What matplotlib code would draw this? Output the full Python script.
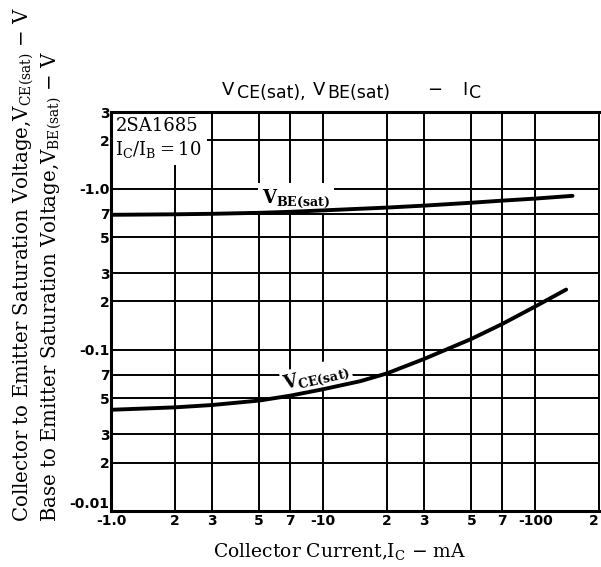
import numpy as np
import matplotlib.pyplot as plt
from matplotlib.ticker import FixedLocator, NullLocator

plt.rcParams['mathtext.fontset'] = 'custom'
plt.rcParams['mathtext.rm'] = 'DejaVu Serif'
plt.rcParams['mathtext.bf'] = 'DejaVu Serif:bold'

# data (|Ic| in mA, |V| in V)
ic_be = [1, 2, 3, 5, 7, 10, 20, 30, 50, 70, 100, 150]
vbe = [0.69, 0.695, 0.70, 0.71, 0.72, 0.735, 0.765, 0.787, 0.82, 0.845, 0.87, 0.905]
ic_ce = [1, 2, 3, 5, 7, 10, 15, 20, 30, 50, 70, 100, 140]
vce = [0.0425, 0.0440, 0.0455, 0.0485, 0.052, 0.057, 0.064, 0.0715, 0.088, 0.117, 0.145, 0.186, 0.237]

xticks = [1, 2, 3, 5, 7, 10, 20, 30, 50, 70, 100, 200]
xlabels = ['-1.0', '2', '3', '5', '7', '-10', '2', '3', '5', '7', '-100', '2']
yticks = [0.01, 0.02, 0.03, 0.05, 0.07, 0.1, 0.2, 0.3, 0.5, 0.7, 1, 2, 3]
ylabels = ['-0.01', '2', '3', '5', '7', '-0.1', '2', '3', '5', '7', '-1.0', '2', '3']

W, H = 601, 567
fig = plt.figure(figsize=(W / 100, H / 100), dpi=100)
ax = fig.add_axes([111/W, 1 - 511/H, 488/W, 399/H])
ax.set_xscale('log')
ax.set_yscale('log')
ax.set_xlim(1, 200)
ax.set_ylim(0.01, 3)

ax.xaxis.set_major_locator(FixedLocator(xticks))
ax.yaxis.set_major_locator(FixedLocator(yticks))
ax.xaxis.set_minor_locator(NullLocator())
ax.yaxis.set_minor_locator(NullLocator())
ax.set_xticklabels(xlabels, fontsize=10, fontweight='bold', family='DejaVu Sans')
ax.set_yticklabels(ylabels, fontsize=10, fontweight='bold', family='DejaVu Sans')
ax.tick_params(length=0, pad=1)
ax.get_yticklabels()[0].set_va('bottom')
ax.get_xticklabels()[0].set_va('top')
ax.get_xticklabels()[-1].set_ha('right')
ax.tick_params(axis='x', pad=2)
ax.grid(True, color='black', linewidth=1.4)

for s in ['left', 'bottom', 'top']:
    ax.spines[s].set_linewidth(2.2)
ax.spines['right'].set_linewidth(1.4)
for sp in ax.spines.values():
    sp.set_zorder(6)

ax.plot(ic_be, vbe, color='black', linewidth=2.8, solid_capstyle='round', zorder=5)
ax.plot(ic_ce, vce, color='black', linewidth=2.8, solid_capstyle='round', zorder=5)

ax.text(5.15, 0.875, r'$\mathbf{V_{BE(sat)}}$', fontsize=13,
        ha='left', va='center', zorder=4,
        bbox=dict(boxstyle='square,pad=0.2', fc='white', ec='none'))
ax.text(9.3, 0.068, r'$\mathbf{V_{CE(sat)}}$', fontsize=13,
        ha='center', va='center', rotation=13, zorder=4,
        bbox=dict(boxstyle='square,pad=0.1', fc='white', ec='none'))

ax.text(1.05, 2.78, '2SA1685\n' + r'I$_{\rm C}$/I$_{\rm B}$$=$10', fontsize=13,
        family='DejaVu Serif', ha='left', va='top', linespacing=1.2, zorder=4,
        bbox=dict(boxstyle='square,pad=0.3', fc='white', ec='none'))

# title built from pieces so the subscripts keep their large size
title_parts = [('V', 222, 13, 95), ('CE(sat),', 237, 12.5, 98), ('V', 313, 13, 95),
               ('BE(sat)', 327, 12.5, 98), ('\u2212', 427, 13, 95), ('I', 462, 13, 95),
               ('C', 469, 12.5, 98)]
for txt, px, fs, py in title_parts:
    fig.text(px / W, 1 - py / H, txt, fontsize=fs, family='DejaVu Sans',
             ha='left', va='baseline')

fig.text(340 / W, 1 - 552 / H, r'Collector Current,I$_{\rm C}$ $-$ mA', fontsize=13.5,
         family='DejaVu Serif', ha='center', va='center')

fig.text(24 / W, 1 - 522 / H, r'Collector to Emitter Saturation Voltage,V$_{\rm CE(sat)}$ $-$ V',
         rotation=90, fontsize=14.2, family='DejaVu Serif', ha='center', va='bottom')
fig.text(52 / W, 1 - 522 / H, r'Base to Emitter Saturation Voltage,V$_{\rm BE(sat)}$ $-$ V',
         rotation=90, fontsize=14.2, family='DejaVu Serif', ha='center', va='bottom')

fig.savefig('out.png', dpi=100)
